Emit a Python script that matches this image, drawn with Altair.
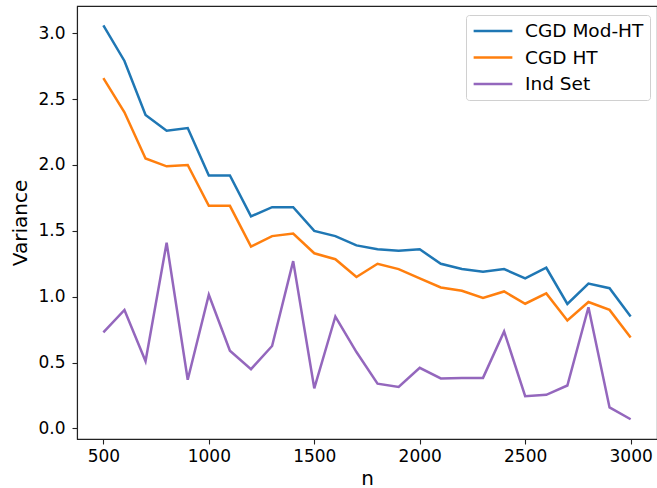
import altair as alt
import pandas as pd

n_values = list(range(500, 3001, 100))
cgd_mod_ht = [3.06, 2.79, 2.38, 2.26, 2.28, 1.92, 1.92, 1.61, 1.68, 1.68, 1.50, 1.46, 1.39,
              1.36, 1.35, 1.36, 1.25, 1.21, 1.19, 1.21, 1.14, 1.22, 0.945, 1.10, 1.065, 0.85]
cgd_ht = [2.66, 2.40, 2.05, 1.99, 2.00, 1.69, 1.69, 1.38, 1.46, 1.48, 1.33, 1.285, 1.15,
          1.25, 1.21, 1.14, 1.07, 1.045, 0.99, 1.04, 0.947, 1.025, 0.82, 0.96, 0.90, 0.69]
ind_set = [0.73, 0.90, 0.51, 1.41, 0.37, 1.015, 0.59, 0.45, 0.626, 1.27, 0.305, 0.85, 0.58,
           0.34, 0.315, 0.46, 0.38, 0.384, 0.384, 0.737, 0.245, 0.255, 0.326, 0.92, 0.16, 0.07]

series_names = ["CGD Mod-HT", "CGD HT", "Ind Set"]
series_colors = ["#1f77b4", "#ff7f0e", "#9467bd"]

rows = []
for name, vals in zip(series_names, [cgd_mod_ht, cgd_ht, ind_set]):
    for n, v in zip(n_values, vals):
        rows.append({"n": n, "Variance": v, "series": name})
df = pd.DataFrame(rows)

FONT = "DejaVu Sans"

chart = alt.Chart(df).mark_line(strokeWidth=2.5, clip=True).encode(
    x=alt.X("n:Q",
            scale=alt.Scale(domain=[375, 3125], nice=False, zero=False),
            axis=alt.Axis(values=[500, 1000, 1500, 2000, 2500, 3000], format="d",
                          title="n", grid=False, tickSize=5, labelPadding=4,
                          titlePadding=4)),
    y=alt.Y("Variance:Q",
            scale=alt.Scale(domain=[-0.08, 3.207], nice=False, zero=False),
            axis=alt.Axis(values=[0, 0.5, 1.0, 1.5, 2.0, 2.5, 3.0], format=".1f",
                          title="Variance", grid=False, tickSize=5, labelPadding=7,
                          titlePadding=7)),
    color=alt.Color("series:N",
                    scale=alt.Scale(domain=series_names, range=series_colors),
                    sort=series_names,
                    legend=alt.Legend(title=None, orient="none", legendX=389, legendY=9,
                                      symbolType="stroke", symbolSize=1500,
                                      symbolStrokeWidth=2.5, labelFontSize=18.5,
                                      labelFont=FONT, labelColor="black",
                                      strokeColor="#d0d0d0", fillColor="white",
                                      cornerRadius=3, padding=6, rowPadding=6.5,
                                      clipHeight=20,
                                      labelOffset=11, symbolOffset=0)),
).properties(
    width=580, height=433,
    padding={"left": 77, "top": 6, "right": 0, "bottom": 49},
    autosize=alt.AutoSizeParams(type="none"),
).configure_view(
    stroke="#222222", strokeWidth=1.1
).configure_axis(
    labelFont=FONT, titleFont=FONT, labelFontSize=17, titleFontSize=20,
    labelColor="black", titleColor="black", titleFontWeight="normal",
    domainColor="#222222", tickColor="#222222", domainWidth=1.1, tickWidth=1.1,
)

chart.save("out.html", embed_options={"renderer": "svg", "actions": False})
